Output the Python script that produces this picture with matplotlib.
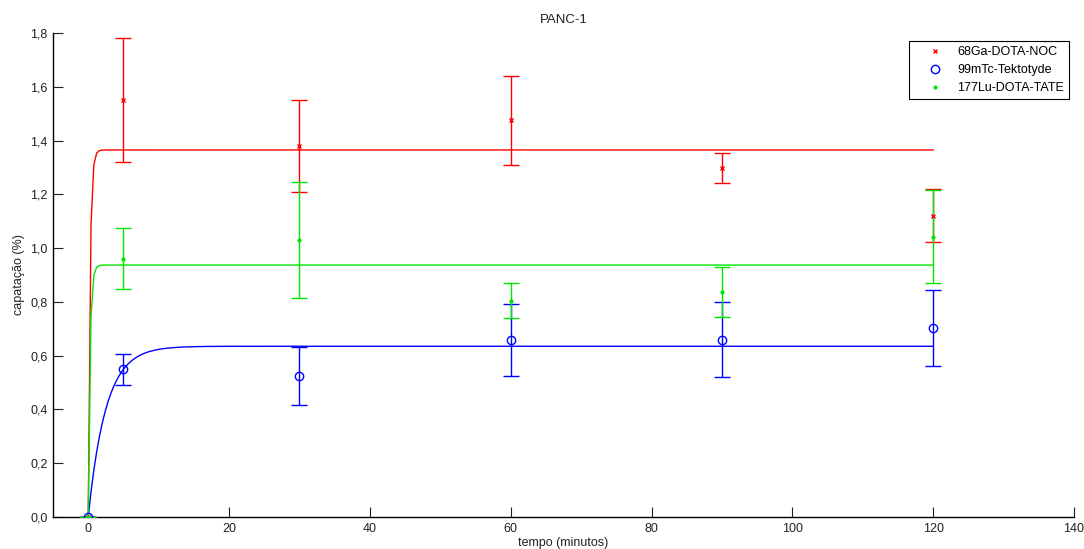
import numpy as np
import matplotlib
matplotlib.use("Agg")
import matplotlib.pyplot as plt

plt.rcParams['font.family'] = ['Liberation Sans', 'DejaVu Sans']

# Sampling times (minutes)
tempo = [0, 5, 30, 60, 90, 120]

# Uptake (%) mean and error for each radiopharmaceutical
ga_label = "68Ga-DOTA-NOC"
ga_mean = [0.0, 1.55, 1.38, 1.475, 1.297, 1.121]
ga_err = [0.0, 0.231, 0.17, 0.165, 0.055, 0.097]

tc_label = "99mTc-Tektotyde"
tc_mean = [0.0, 0.549, 0.524, 0.658, 0.659, 0.703]
tc_err = [0.0, 0.057, 0.108, 0.133, 0.140, 0.140]

lu_label = "177Lu-DOTA-TATE"
lu_mean = [0.0, 0.961, 1.030, 0.804, 0.837, 1.043]
lu_err = [0.0, 0.112, 0.216, 0.065, 0.092, 0.172]

# One-phase association fits: Y = plateau * (1 - exp(-k t))
ga_fit = {"plateau": 1.365, "k": 4.0}
tc_fit = {"plateau": 0.635, "k": 0.4}
lu_fit = {"plateau": 0.937, "k": 4.0}

xticks = [0, 20, 40, 60, 80, 100, 120, 140]
yticks = [0.0, 0.2, 0.4, 0.6, 0.8, 1.0, 1.2, 1.4, 1.6, 1.8]

W, H = 1084, 549
fig = plt.figure(figsize=(W / 100, H / 100), dpi=100)
ax = fig.add_axes([53 / W, 1 - 517 / H, (1074 - 53) / W, (517 - 33) / H])

t_fit = np.linspace(0, 120, 301)


def one_phase(p, t):
    return p["plateau"] * (1 - np.exp(-p["k"] * t))


series = [
    (ga_mean, ga_err, ga_fit, (1, 0, 0), 'x', 3.5, ga_label, 'full'),
    (tc_mean, tc_err, tc_fit, (0, 0, 1), 'o', 6.0, tc_label, 'none'),
    (lu_mean, lu_err, lu_fit, (0, 0.9, 0), '.', 4.0, lu_label, 'full'),
]

for mean, err, fit, col, mk, ms, lab, fill in series:
    ax.plot(t_fit, one_phase(fit, t_fit), color=col, lw=1.0, zorder=2)
    ax.errorbar(tempo, mean, yerr=err, fmt='none', ecolor=col, elinewidth=1.0,
                capsize=5.8, capthick=1.0, zorder=3)

handles = []
for mean, err, fit, col, mk, ms, lab, fill in series:
    if fill == 'none':
        h, = ax.plot(tempo, mean, linestyle='none', marker=mk, ms=ms,
                     mfc='none', mec=col, mew=1.0, label=lab, zorder=4)
    else:
        h, = ax.plot(tempo, mean, linestyle='none', marker=mk, ms=ms,
                     color=col, mew=1.0, label=lab, zorder=4)
    handles.append(h)

ax.set_xlim(-5, 140)
ax.set_ylim(0, 1.8)
ax.set_xticks(xticks)
ax.set_xticklabels([str(v) for v in xticks])
ax.set_yticks(yticks)
ax.set_yticklabels([f"{v:.1f}".replace('.', ',') for v in yticks])

for side in ('top', 'right'):
    ax.spines[side].set_visible(False)
for side in ('left', 'bottom'):
    ax.spines[side].set_linewidth(1.0)
    ax.spines[side].set_color('black')

ax.tick_params(direction='in', length=7, width=0.8, labelsize=9,
               colors='#222222', pad=4)

ax.set_title("PANC-1", fontsize=9.5, pad=7, color='#222222')
ax.set_xlabel("tempo (minutos)", fontsize=9, labelpad=2, color='#222222')
ax.set_ylabel("capatação (%)", fontsize=9, labelpad=4, color='#222222')

leg = ax.legend(handles=handles, loc='upper right',
                bbox_to_anchor=((1069 - 53) / (1074 - 53), (517 - 41) / (517 - 33)),
                borderaxespad=0, fancybox=False, framealpha=1, edgecolor='black',
                fontsize=9, handlelength=3.5, handletextpad=0.0,
                borderpad=0.4, labelspacing=0.48)
leg.get_frame().set_linewidth(0.8)

fig.savefig("out.png", dpi=100)
